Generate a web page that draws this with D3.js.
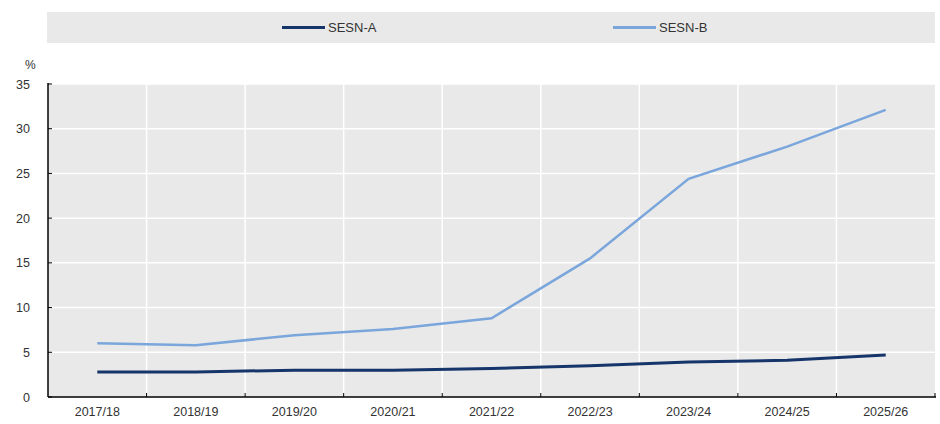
<!DOCTYPE html>
<html>
<head>
<meta charset="utf-8">
<script src="https://cdn.jsdelivr.net/npm/d3@7"></script>
<style>
  body { margin: 0; background: #fff; }
  svg text { font-family: "Liberation Sans Narrow", "Arial Narrow", "Liberation Sans", Arial, sans-serif; fill: #333; }
</style>
</head>
<body>
<svg id="canvas"></svg>
<script>
let width = 940
let height = 424

let years = ['2017/18','2018/19','2019/20','2020/21','2021/22','2022/23','2023/24','2024/25','2025/26']
let sesnA = [2.8, 2.8, 3.0, 3.0, 3.2, 3.5, 3.9, 4.1, 4.7]
let sesnB = [6.0, 5.8, 6.9, 7.6, 8.8, 15.5, 24.4, 28.0, 32.1]
let seriesNames = ['SESN-A', 'SESN-B']
let colors = ['#15356b', '#7aa6dc']
let yTicks = [0, 5, 10, 15, 20, 25, 30, 35]

let plotLeft = 48, plotRight = 935, plotTop = 84, plotBottom = 397

let canvas = d3.select('#canvas').attr('width', width).attr('height', height)

let xScale = d3.scaleBand().domain(years).range([plotLeft, plotRight])
let yScale = d3.scaleLinear().domain([0, 35]).range([plotBottom, plotTop])

// legend
let legend = canvas.append('g')
legend.append('rect')
  .attr('x', 47).attr('y', 12).attr('width', 888).attr('height', 31)
  .attr('fill', '#e9e9e9')
let legendX = [282, 613]
seriesNames.forEach((name, i) => {
  legend.append('line')
    .attr('x1', legendX[i]).attr('x2', legendX[i] + 43)
    .attr('y1', 27.5).attr('y2', 27.5)
    .attr('stroke', colors[i]).attr('stroke-width', 3)
  legend.append('text')
    .attr('x', legendX[i] + 46).attr('y', 32)
    .attr('font-size', 13)
    .text(name)
})

// plot background
canvas.append('rect')
  .attr('x', plotLeft).attr('y', plotTop).attr('width', plotRight - plotLeft).attr('height', plotBottom - plotTop)
  .attr('fill', '#e9e9e9')

// grid
canvas.append('g').selectAll('line')
  .data(yTicks.slice(1))
  .enter().append('line')
  .attr('x1', plotLeft).attr('x2', plotRight)
  .attr('y1', d => yScale(d)).attr('y2', d => yScale(d))
  .attr('stroke', '#fff').attr('stroke-width', 1.5)

canvas.append('g').selectAll('line')
  .data(years.slice(1))
  .enter().append('line')
  .attr('x1', d => xScale(d)).attr('x2', d => xScale(d))
  .attr('y1', plotTop).attr('y2', plotBottom)
  .attr('stroke', '#fff').attr('stroke-width', 1.5)

// axes
let xAxis = d3.axisBottom(xScale).tickSize(0).tickPadding(10)
let xg = canvas.append('g')
  .attr('transform', `translate(0,${plotBottom})`)
  .call(xAxis)
xg.select('.domain').remove()
xg.selectAll('text').attr('font-size', 12.5).style('fill', '#333')

canvas.append('g').selectAll('line')
  .data(years.slice(1).concat(['end']))
  .enter().append('line')
  .attr('x1', d => d === 'end' ? plotRight : xScale(d))
  .attr('x2', d => d === 'end' ? plotRight : xScale(d))
  .attr('y1', plotBottom - 4).attr('y2', plotBottom)
  .attr('stroke', '#000')

canvas.append('line')
  .attr('x1', plotLeft).attr('x2', plotRight + 1)
  .attr('y1', plotBottom).attr('y2', plotBottom)
  .attr('stroke', '#000').attr('stroke-width', 1.5)

let yAxis = d3.axisLeft(yScale).tickValues(yTicks).tickSize(0).tickPadding(18)
let yg = canvas.append('g')
  .attr('transform', `translate(${plotLeft},0)`)
  .call(yAxis)
yg.select('.domain').remove()
yg.selectAll('text').attr('font-size', 12.5).style('fill', '#333')

canvas.append('g').selectAll('line')
  .data(yTicks)
  .enter().append('line')
  .attr('x1', plotLeft).attr('x2', plotLeft + 4)
  .attr('y1', d => yScale(d)).attr('y2', d => yScale(d))
  .attr('stroke', '#000')

canvas.append('line')
  .attr('x1', plotLeft).attr('x2', plotLeft)
  .attr('y1', plotTop - 1).attr('y2', plotBottom)
  .attr('stroke', '#000').attr('stroke-width', 1.5)

canvas.append('text')
  .attr('x', 25).attr('y', 69)
  .attr('font-size', 12)
  .text('%')

// lines
let line = d3.line()
  .x((d, i) => xScale(years[i]) + xScale.bandwidth() / 2)
  .y(d => yScale(d))

;[sesnA, sesnB].forEach((s, i) => {
  canvas.append('path')
    .datum(s)
    .attr('d', line)
    .attr('fill', 'none')
    .attr('stroke', colors[i])
    .attr('stroke-width', i === 0 ? 3 : 2.5)
})
</script>
</body>
</html>
